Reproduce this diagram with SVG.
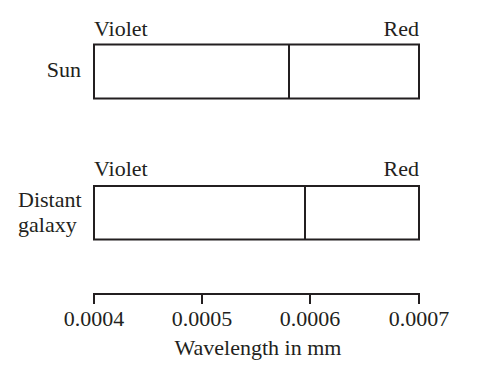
<svg xmlns="http://www.w3.org/2000/svg" width="487" height="374" viewBox="0 0 487 374">
<style>
text{font-size:22px;fill:#231f20}
.b{fill:none;stroke:#231f20;stroke-width:2}
.m{text-anchor:middle}
.e{text-anchor:end}
</style>
<rect width="487" height="374" fill="#fff"/>
<g font-family="Liberation Serif, serif">
<g id="sun">
<text x="94" y="35.5">Violet</text>
<text x="419" y="35.5" class="e">Red</text>
<text x="81" y="77" class="e">Sun</text>
<rect x="94" y="44.5" width="325" height="54" class="b"/>
<line x1="289" y1="44.5" x2="289" y2="98.5" class="b"/>
</g>
<g id="galaxy">
<text x="94" y="176">Violet</text>
<text x="419" y="176" class="e">Red</text>
<text x="18" y="207">Distant</text>
<text x="18" y="231.5">galaxy</text>
<rect x="94" y="186" width="325" height="53.5" class="b"/>
<line x1="305" y1="186" x2="305" y2="239.5" class="b"/>
</g>
<g id="axis">
<path d="M94,304V294H419V304M202,294V304M310,294V304" class="b"/>
<text x="94" y="326" class="m">0.0004</text>
<text x="202" y="326" class="m">0.0005</text>
<text x="310" y="326" class="m">0.0006</text>
<text x="419" y="326" class="m">0.0007</text>
<text x="258" y="355" class="m">Wavelength in mm</text>
</g>
</g>
</svg>
